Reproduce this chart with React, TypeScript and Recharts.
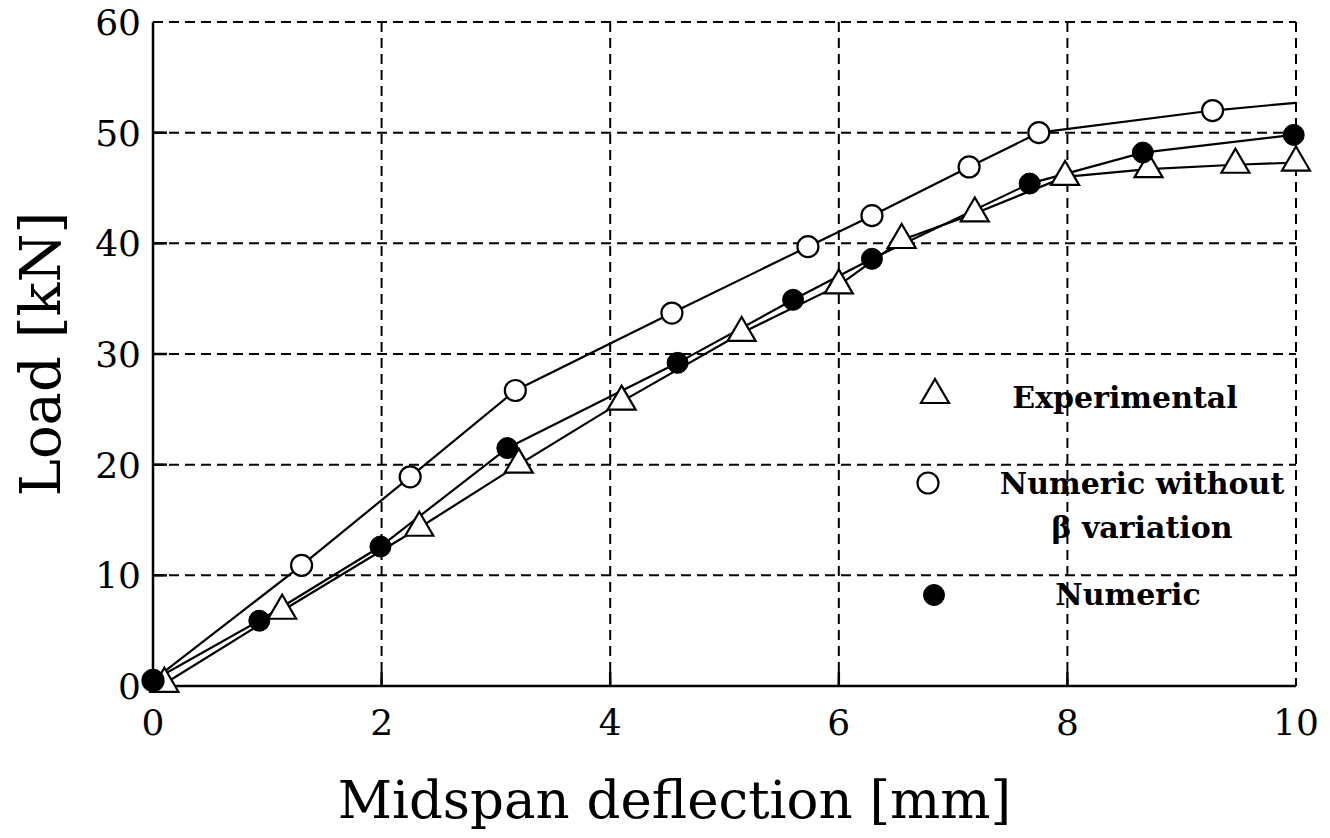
import React from "react";
import { LineChart, Line, XAxis, YAxis, CartesianGrid } from "recharts";

// Load–deflection readings for the three beam series
const deflectionExp = [0.1, 1.13, 2.33, 3.2, 4.1, 5.15, 6.0, 6.55, 7.19, 7.98, 8.71, 9.47, 10.0];
const loadExp = [0.2, 6.8, 14.3, 20.0, 25.7, 31.9, 36.2, 40.3, 42.7, 46.0, 46.7, 47.1, 47.3];

const deflectionNoBeta = [0, 1.3, 2.25, 3.17, 4.54, 5.73, 6.29, 7.14, 7.75, 9.27, 10.0];
const loadNoBeta = [0.5, 10.9, 18.9, 26.7, 33.7, 39.7, 42.5, 46.9, 50.0, 52.0, 52.7];

const deflectionNum = [0, 0.93, 1.99, 3.1, 4.59, 5.6, 6.29, 7.67, 8.66, 9.98];
const loadNum = [0.5, 5.9, 12.6, 21.5, 29.2, 34.9, 38.6, 45.4, 48.2, 49.8];

const xTicks = [0, 2, 4, 6, 8, 10];
const yTicks = [0, 10, 20, 30, 40, 50, 60];

const seriesNames = ["Experimental", "Numeric without", "β variation", "Numeric"];

const toPoints = (xs: number[], ys: number[]) => xs.map((x, i) => ({ x, y: ys[i] }));

const expData = toPoints(deflectionExp, loadExp);
const noBetaData = toPoints(deflectionNoBeta, loadNoBeta);
const numData = toPoints(deflectionNum, loadNum);

const FONT = "'DejaVu Serif', serif";
const INK = "#000";
const TICK_LEN = 14;
const FRAME = { stroke: INK, strokeWidth: 2.5 };

const Triangle = ({ cx, cy }: { cx: number; cy: number }) => (
  <path
    d={`M${cx},${cy - 16} L${cx + 14},${cy + 8} L${cx - 14},${cy + 8} Z`}
    fill="#fff"
    stroke={INK}
    strokeWidth={2.2}
  />
);

const OpenCircle = ({ cx, cy }: { cx: number; cy: number }) => (
  <circle cx={cx} cy={cy} r={10.5} fill="#fff" stroke={INK} strokeWidth={2.2} />
);

const FilledCircle = ({ cx, cy }: { cx: number; cy: number }) => (
  <circle cx={cx} cy={cy} r={10.5} fill={INK} stroke={INK} strokeWidth={1} />
);

// y ticks: label outside, short solid tick inside the frame
const LeftTick = (props: any) => {
  const { x, y, payload } = props;
  const v = payload.value;
  return (
    <g>
      <text x={x - 12} y={y} dy="0.36em" textAnchor="end" fontSize={36} fontFamily={FONT} fill={INK}>
        {v}
      </text>
      {v > 0 && v < 60 && <line x1={x} x2={x + TICK_LEN} y1={y} y2={y} stroke={INK} strokeWidth={2.5} />}
    </g>
  );
};

const BottomTick = (props: any) => {
  const { x, y, payload } = props;
  const v = payload.value;
  return (
    <g>
      <text x={x} y={y + 36} dy="0.36em" textAnchor="middle" fontSize={36} fontFamily={FONT} fill={INK}>
        {v}
      </text>
      {v > 0 && v < 10 && <line x1={x} x2={x} y1={y} y2={y - TICK_LEN} stroke={INK} strokeWidth={2.5} />}
    </g>
  );
};

const TopTick = (props: any) => {
  const { x, y, payload } = props;
  const v = payload.value;
  if (v <= 0 || v >= 10) return <g />;
  return <line x1={x} x2={x} y1={y} y2={y + TICK_LEN} stroke={INK} strokeWidth={2.5} />;
};

const RightTick = (props: any) => {
  const { x, y, payload } = props;
  const v = payload.value;
  if (v <= 0 || v >= 60) return <g />;
  return <line x1={x} x2={x - TICK_LEN} y1={y} y2={y} stroke={INK} strokeWidth={2.5} />;
};

const LegendBox = () => (
  <svg width={1330} height={838} style={{ position: "absolute", left: 0, top: 0, pointerEvents: "none" }}>
    <g fontFamily={FONT} fontSize={30} fontWeight="bold" fill={INK} textAnchor="middle">
      <Triangle cx={935} cy={395} />
      <text x={1125} y={408}>{seriesNames[0]}</text>
      <OpenCircle cx={928} cy={483} />
      <text x={1142} y={494}>{seriesNames[1]}</text>
      <text x={1142} y={538}>{seriesNames[2]}</text>
      <FilledCircle cx={934} cy={595} />
      <text x={1128} y={605}>{seriesNames[3]}</text>
    </g>
  </svg>
);

export default function App() {
  const lastNoBeta = noBetaData.length - 1;
  return (
    <div style={{ position: "absolute", left: 0, top: 0, width: 1330, height: 838, background: "#fff" }}>
      <LineChart width={1330} height={838} margin={{ top: 22, right: 34, bottom: 0, left: 0 }}>
        <CartesianGrid stroke={INK} strokeWidth={2} strokeDasharray="10 6" />
        <XAxis
          xAxisId={0}
          dataKey="x"
          type="number"
          domain={[0, 10]}
          ticks={xTicks}
          height={152}
          tickSize={0}
          tickMargin={0}
          tickLine={false}
          axisLine={FRAME}
          tick={BottomTick}
          label={{
            value: "Midspan deflection [mm]",
            position: "insideBottom",
            offset: 20,
            dx: -50,
            fontSize: 53,
            fontFamily: FONT,
            fill: INK,
          }}
        />
        <XAxis
          xAxisId="top"
          orientation="top"
          type="number"
          domain={[0, 10]}
          ticks={xTicks}
          height={0}
          tickSize={0}
          tickMargin={0}
          tickLine={false}
          axisLine={FRAME}
          tick={TopTick}
        />
        <YAxis
          yAxisId={0}
          type="number"
          domain={[0, 60]}
          ticks={yTicks}
          width={153}
          tickSize={0}
          tickMargin={0}
          tickLine={false}
          axisLine={FRAME}
          tick={LeftTick}
          label={{
            value: "Load [kN]",
            angle: -90,
            position: "insideLeft",
            offset: 40,
            fontSize: 56,
            fontFamily: FONT,
            fill: INK,
            style: { textAnchor: "middle" },
          }}
        />
        <YAxis
          yAxisId="right"
          orientation="right"
          type="number"
          domain={[0, 60]}
          ticks={yTicks}
          width={0}
          tickSize={0}
          tickMargin={0}
          tickLine={false}
          axisLine={FRAME}
          tick={RightTick}
        />
        <Line
          data={expData}
          dataKey="y"
          type="linear"
          stroke={INK}
          strokeWidth={2.2}
          isAnimationActive={false}
          dot={(p: any) => <Triangle key={`e${p.index}`} cx={p.cx} cy={p.cy} />}
        />
        <Line
          data={noBetaData}
          dataKey="y"
          type="linear"
          stroke={INK}
          strokeWidth={2.2}
          isAnimationActive={false}
          dot={(p: any) =>
            // the curve runs on to the frame with no marker at its end
            p.index === lastNoBeta ? <g key={`n${p.index}`} /> : <OpenCircle key={`n${p.index}`} cx={p.cx} cy={p.cy} />
          }
        />
        <Line
          data={numData}
          dataKey="y"
          type="linear"
          stroke={INK}
          strokeWidth={2.2}
          isAnimationActive={false}
          dot={(p: any) => <FilledCircle key={`f${p.index}`} cx={p.cx} cy={p.cy} />}
        />
      </LineChart>
      <LegendBox />
    </div>
  );
}
